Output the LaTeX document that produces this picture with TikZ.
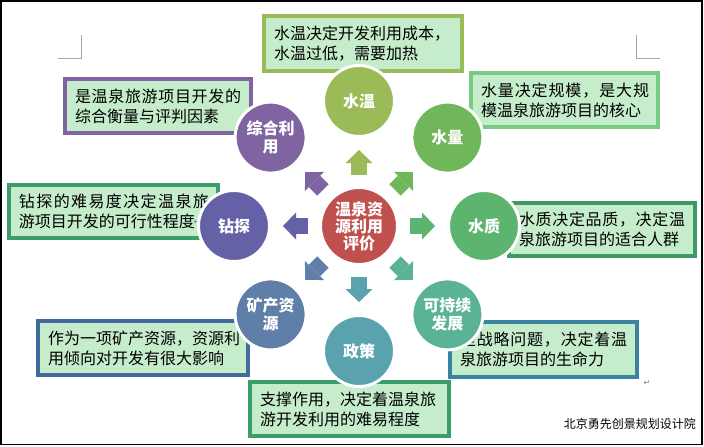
\documentclass[tikz,border=0pt]{standalone}
\usepackage{fontspec}
\newfontfamily\cjk{Noto Sans CJK SC}
\newfontfamily\dejavu{DejaVu Sans}
\usetikzlibrary{arrows.meta}
\definecolor{cred}{HTML}{C0504D}
\definecolor{cwt}{HTML}{9BBB59}
\definecolor{cwl}{HTML}{70B65A}
\definecolor{cwq}{HTML}{5CB46F}
\definecolor{ckc}{HTML}{5BB397}
\definecolor{czc}{HTML}{5AA2AE}
\definecolor{ckz}{HTML}{5F7EA8}
\definecolor{czt}{HTML}{6461A6}
\definecolor{czh}{HTML}{8064A2}
\definecolor{bwl}{HTML}{77CC84}
\definecolor{bzt}{HTML}{3C9C6B}
\definecolor{bwq}{HTML}{3C9A62}
\definecolor{bkc}{HTML}{3A84A0}
\definecolor{bkz}{HTML}{44699F}
\definecolor{boxfill}{HTML}{C6EDCB}
\definecolor{markgray}{HTML}{A6A6A6}
\newcommand{\lsp}[2]{{\addfontfeatures{LetterSpace=#1}#2}}
\tikzset{
  tbox/.style={draw, line width=3.5pt, fill=boxfill, inner sep=0pt, outer sep=0pt,
    align=left, text=black, font=\cjk\fontsize{16}{20}\selectfont},
  sat/.style={circle, draw=white, line width=3pt, inner sep=0pt, outer sep=0pt,
    minimum size=71pt, align=center, text=white,
    font=\cjk\bfseries\fontsize{16}{18}\selectfont},
  barrow/.style={line width=16pt, shorten <=12.5pt, shorten >=13.5pt,
    -{Triangle[width=27pt,length=13pt,line width=0pt]}},
  cmark/.style={draw=markgray, line width=1pt},
  retmark/.style={text=gray, inner sep=0pt, font=\dejavu\fontsize{8}{8}\selectfont}
}
\begin{document}
\begin{tikzpicture}[x=1pt,y=-1pt]
\useasboundingbox (0,0) rectangle (704,447);
\fill[white] (0,0) rectangle (704,447);
\draw[line width=1.5pt] (1,1) rectangle (702,444.5);
% corner marks
\draw[cmark] (58,58) -- (81,58) -- (81,35);
\draw[cmark] (636,35) -- (636,58) -- (660,58);
% text boxes
\node[tbox, draw=cwt, minimum width=198pt, minimum height=55pt, text width=178pt] (b1) at (363,43.5)
  {水温决定开发利用成本，\\水温过低，需要加热};
\node[tbox, draw=czh, minimum width=186pt, minimum height=54pt, text width=166pt] (b2) at (158,106)
  {\lsp{4.2}{是温泉旅游项目开发的}\\综合衡量与评判因素};
\node[tbox, draw=bwl, minimum width=187pt, minimum height=54pt, text width=167pt] (b3) at (564.5,100)
  {\lsp{5.6}{水量决定规模，是大规}\\模温泉旅游项目的核心};
\node[tbox, draw=bzt, minimum width=209pt, minimum height=53pt, text width=189pt] (b4) at (113.5,211.5)
  {\lsp{8.7}{钻探的难易度决定温泉旅}\\游项目开发的可行性程度};
\node[tbox, draw=bwq, minimum width=186pt, minimum height=53pt, text width=166pt] (b5) at (602,229.5)
  {\lsp{4.2}{水质决定品质，决定温}\\泉旅游项目的适合人群};
\node[tbox, draw=bkc, minimum width=187pt, minimum height=55pt, text width=167pt] (b6) at (543.5,349.5)
  {\lsp{5}{是战略问题，决定着温}\\泉旅游项目的生命力};
\node[tbox, draw=bkz, minimum width=210pt, minimum height=54pt, text width=190pt] (b7) at (143,348)
  {作为一项矿产资源，资源利\\用倾向对开发有很大影响};
\node[tbox, draw=bzt, minimum width=199pt, minimum height=54pt, text width=179pt] (b8) at (349.5,409)
  {支撑作用，决定着温泉旅\\游开发利用的难易程度};
\node[retmark] (rm2) at (197,222) {↵};
\node[retmark] (rm1) at (647,383) {↵};
% center and satellites
\node[sat, fill=cred, minimum size=77pt, font=\cjk\bfseries\fontsize{16}{17}\selectfont] (c) at (359,226)
  {温泉资\\源利用\\评价};
\node[sat, fill=cwt] (s1) at (359,101) {水温};
\node[sat, fill=cwl] (s2) at (447.4,137.6) {水量};
\node[sat, fill=cwq] (s3) at (484,226) {水质};
\node[sat, fill=ckc] (s4) at (447.4,314.4) {可持续\\发展};
\node[sat, fill=czc] (s5) at (359,351) {政策};
\node[sat, fill=ckz] (s6) at (270.6,314.4) {矿产资\\源};
\node[sat, fill=czt] (s7) at (234,226) {钻探};
\node[sat, fill=czh] (s8) at (270.6,137.6) {综合利\\用};
% block arrows
\draw[barrow, cwt] (c) -- (s1);
\draw[barrow, cwl] (c) -- (s2);
\draw[barrow, cwq] (c) -- (s3);
\draw[barrow, ckc] (c) -- (s4);
\draw[barrow, czc] (c) -- (s5);
\draw[barrow, ckz] (c) -- (s6);
\draw[barrow, czt] (c) -- (s7);
\draw[barrow, czh] (c) -- (s8);
% footer
\node[anchor=east, inner sep=0pt, font=\cjk\fontsize{12}{12}\selectfont] (ft) at (696,424)
  {北京勇先创景规划设计院};
\end{tikzpicture}
\end{document}
